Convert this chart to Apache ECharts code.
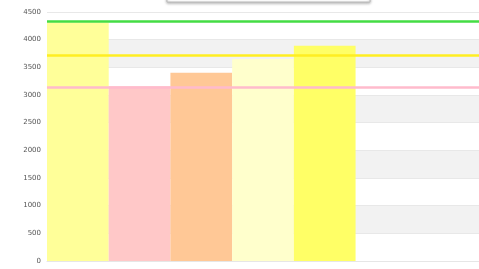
<!DOCTYPE html>
<html>
<head>
<meta charset="utf-8">
<script src="https://cdn.jsdelivr.net/npm/echarts@6/dist/echarts.min.js"></script>
<style>
    html, body { margin: 0; padding: 0; background: #fff; }
    #chart { width: 479px; height: 269px; }
</style>
</head>
<body>
<div id="chart"></div>
<script>
// 数据
var categories = ['A', 'B', 'C', 'D', 'E', 'F', 'G'];
var values = [4310, 3160, 3400, 3650, 3890, null, null];
var lineValues = [4330, 3710, 3140];
var yTicks = [0, 500, 1000, 1500, 2000, 2500, 3000, 3500, 4000, 4500];

var barColors = ['#ffff99', '#ffc8c8', '#ffc896', '#ffffcc', '#ffff66'];
var lineColors = ['#44dd44', '#ffee22', '#ffbbcc'];

var myChart = echarts.init(document.getElementById('chart'));
var option = {
    animation: false,
    graphic: [{
        type: 'rect',
        shape: { x: 167, y: -20, width: 203, height: 22 },
        style: { fill: '#fff', stroke: '#bbb', lineWidth: 1, shadowBlur: 3, shadowColor: 'rgba(0,0,0,0.3)', shadowOffsetY: 1 }
    }],
    grid: { left: 47, right: 0, top: 12, bottom: 8 },
    xAxis: {
        type: 'category',
        data: categories,
        axisLine: { show: true, lineStyle: { color: '#e6e6e6' } },
        axisTick: { show: false },
        axisLabel: { show: false }
    },
    yAxis: {
        type: 'value',
        min: yTicks[0],
        max: yTicks[yTicks.length - 1],
        interval: 500,
        axisLine: { show: false },
        axisTick: { show: false },
        axisLabel: {
            color: '#555', fontSize: 7, fontFamily: 'DejaVu Sans', margin: 6,
            formatter: function (v) { return String(v); }
        },
        splitLine: { show: true, lineStyle: { color: '#e8e8e8' } },
        splitArea: { show: true, areaStyle: { color: ['#ffffff', '#f2f2f2'] } }
    },
    series: [{
        type: 'bar',
        barWidth: '100%',
        data: values.map(function (v, i) {
            return { value: v, itemStyle: { color: barColors[i] } };
        }),
        markLine: {
            silent: true,
            symbol: 'none',
            label: { show: false },
            data: lineValues.map(function (v, i) {
                return { yAxis: v, lineStyle: { color: lineColors[i], width: 2.5, type: 'solid' } };
            })
        }
    }]
};
myChart.setOption(option);
</script>
</body>
</html>
